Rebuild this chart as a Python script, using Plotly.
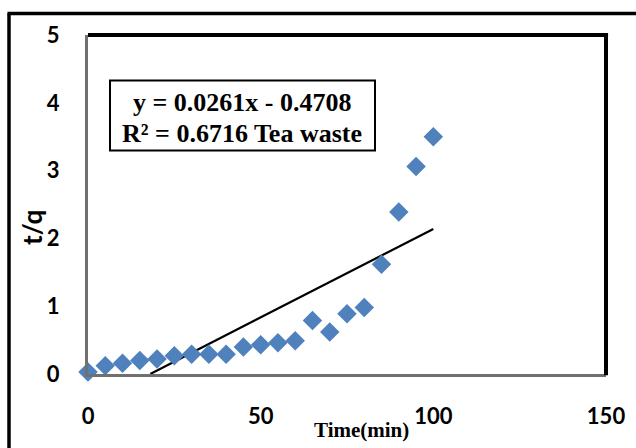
import plotly.graph_objects as go

# ---- data ----
time_min = [0, 5, 10, 15, 20, 25, 30, 35, 40, 45, 50, 55, 60, 65, 70, 75, 80, 85, 90, 95, 100]
t_over_q = [0.03, 0.12, 0.16, 0.20, 0.22, 0.27, 0.29, 0.29, 0.29, 0.40, 0.43, 0.46, 0.49,
            0.79, 0.62, 0.89, 0.98, 1.62, 2.39, 3.06, 3.50]
slope = 0.0261
intercept = -0.4708
x_ticks = [0, 50, 100, 150]
y_ticks = [0, 1, 2, 3, 4, 5]
eq_text = "y = 0.0261x - 0.4708"
r2_text = "R² = 0.6716 Tea waste"

# trendline (clipped to the positive part of the y axis, as in the original)
x_start = max(0, -intercept / slope)
x_end = max(time_min)
trend_x = [x_start, x_end]
trend_y = [slope * x + intercept for x in trend_x]

serif = "Liberation Serif, Times New Roman, serif"
sans = "Lato, Liberation Sans, Arial, sans-serif"

fig = go.Figure()
fig.add_trace(go.Scatter(
    x=trend_x, y=trend_y, mode="lines",
    line=dict(color="black", width=2.2),
    showlegend=False, hoverinfo="skip"))
fig.add_trace(go.Scatter(
    x=time_min, y=t_over_q, mode="markers",
    marker=dict(symbol="diamond", size=15, color="#4F81BD", line=dict(width=0)),
    cliponaxis=False, showlegend=False))

fig.update_layout(
    width=636, height=448,
    margin=dict(l=88, r=30, t=34.5, b=73.5),
    paper_bgcolor="white", plot_bgcolor="white",
    xaxis=dict(range=[0, 150], tickvals=x_ticks, showgrid=False, zeroline=False,
               showline=True, linecolor="#707070", linewidth=3, ticks="",
               ticklabelstandoff=21,
               tickfont=dict(family=sans, size=22, color="black", weight="bold")),
    yaxis=dict(range=[0, 5], tickvals=y_ticks, showgrid=False, zeroline=False,
               showline=True, linecolor="#707070", linewidth=3, ticks="",
               ticklabelstandoff=21,
               tickfont=dict(family=sans, size=22, color="black", weight="bold")),
    shapes=[
        # plot frame top and right (black)
        dict(type="line", xref="paper", yref="paper", x0=0, x1=1.004, y0=1, y1=1,
             line=dict(color="black", width=4)),
        dict(type="line", xref="paper", yref="paper", x0=1, x1=1, y0=-0.004, y1=1,
             line=dict(color="black", width=4)),
        # outer chart border (left and top visible)
        dict(type="line", xref="paper", yref="paper", xsizemode="pixel", ysizemode="pixel",
             xanchor=0, yanchor=0, x0=-79, x1=-79, y0=360.5, y1=-120,
             line=dict(color="black", width=3.5)),
        dict(type="line", xref="paper", yref="paper", xsizemode="pixel", ysizemode="pixel",
             xanchor=0, yanchor=0, x0=-80.5, x1=600, y0=360.5, y1=360.5,
             line=dict(color="black", width=3.5)),
        # equation box
        dict(type="rect", xref="paper", yref="paper", xsizemode="pixel", ysizemode="pixel",
             xanchor=0, yanchor=0, x0=22, x1=287, y0=293.5, y1=223.5,
             line=dict(color="black", width=2), fillcolor="white", layer="above"),
    ],
    annotations=[
        dict(text="<b>" + eq_text + "</b>", x=44.6, y=4.0, xref="x", yref="y",
             xanchor="center", yanchor="middle",
             showarrow=False, font=dict(family=serif, size=26, color="black")),
        dict(text="<b>" + r2_text + "</b>", x=44.6, y=3.55, xref="x", yref="y",
             xanchor="center", yanchor="middle",
             showarrow=False, font=dict(family=serif, size=26, color="black")),
        dict(text="<b>t/q</b>", xref="paper", yref="paper",
             x=(32 - 88) / 518, y=(374.5 - 228) / 340, textangle=-90,
             xanchor="center", yanchor="middle",
             showarrow=False, font=dict(family=sans, size=26, color="black")),
        dict(text="<b>Time(min)</b>", xref="paper", yref="paper",
             x=(361 - 88) / 518, y=(374.5 - 431) / 340,
             xanchor="center", yanchor="middle",
             showarrow=False, font=dict(family=serif, size=21, color="black")),
    ],
)

fig.write_html("out.html")
